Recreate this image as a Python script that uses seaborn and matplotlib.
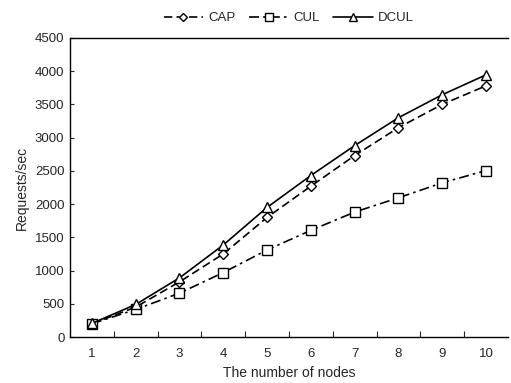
import matplotlib
matplotlib.use("Agg")
import matplotlib.pyplot as plt
from matplotlib.lines import Line2D
import seaborn as sns
import pandas as pd

nodes = [1, 2, 3, 4, 5, 6, 7, 8, 9, 10]
cap = [200, 450, 830, 1250, 1800, 2270, 2730, 3150, 3500, 3780]
cul = [200, 415, 660, 970, 1310, 1605, 1880, 2095, 2320, 2505]
dcul = [205, 490, 890, 1385, 1950, 2430, 2880, 3300, 3645, 3945]
series = ["CAP", "CUL", "DCUL"]

df = pd.DataFrame({
    "nodes": nodes * 3,
    "value": cap + cul + dcul,
    "series": ["CAP"] * 10 + ["CUL"] * 10 + ["DCUL"] * 10,
})

sns.set_style("white")
plt.rcParams['font.family'] = ['Liberation Sans', 'DejaVu Sans']

fig = plt.figure(figsize=(5.11, 3.83), dpi=100)
ax = fig.add_axes([0.137, 0.12, 0.857, 0.781])

dashes = {"CAP": (5, 2.5), "CUL": (6, 2.5, 1.5, 2.5), "DCUL": ""}
markers = {"CAP": "D", "CUL": "s", "DCUL": "^"}
sns.lineplot(data=df, x="nodes", y="value", hue="series", style="series",
             palette={s: "black" for s in series}, dashes=dashes, markers=markers,
             markersize=7.5, markerfacecolor="white", markeredgecolor="black",
             markeredgewidth=1.0, linewidth=1.2, ax=ax, legend=False)
for line in ax.lines:
    if line.get_marker() == "D":
        line.set_markersize(5.5)

ax.set_xlim(0.5, 10.5)
ax.set_ylim(0, 4500)
ax.set_yticks(range(0, 4501, 500))
ax.set_xticks(nodes)
ax.set_xticks([i + 0.5 for i in range(1, 10)], minor=True)
ax.tick_params(axis="x", which="major", length=0, labelsize=9.5, pad=8)
ax.tick_params(axis="x", which="minor", direction="in", length=4, width=0.8, bottom=True)
ax.tick_params(axis="y", direction="in", length=3, width=0.8, left=True, labelsize=9.5, pad=4)
ax.set_xlabel("The number of nodes", fontsize=10)
ax.set_ylabel("Requests/sec", fontsize=10)
for s in ["left", "bottom", "top"]:
    ax.spines[s].set_color("black")
    ax.spines[s].set_linewidth(1.0)
ax.spines["right"].set_visible(False)

handles = [
    Line2D([], [], color="black", linestyle=(0, dashes["CAP"]), linewidth=1.2, marker="D",
           markersize=4.5, markerfacecolor="white", markeredgecolor="black"),
    Line2D([], [], color="black", linestyle=(0, dashes["CUL"]), linewidth=1.2, marker="s",
           markersize=5.5, markerfacecolor="white", markeredgecolor="black"),
    Line2D([], [], color="black", linestyle="-", linewidth=1.2, marker="^",
           markersize=6, markerfacecolor="white", markeredgecolor="black"),
]
ax.legend(handles, series, loc="lower center", bbox_to_anchor=(0.5, 1.045), ncol=3, frameon=False,
          fontsize=9.5, handlelength=3.0, columnspacing=1.0, handletextpad=0.4,
          borderaxespad=0, borderpad=0)

fig.savefig("out.png", dpi=100)
